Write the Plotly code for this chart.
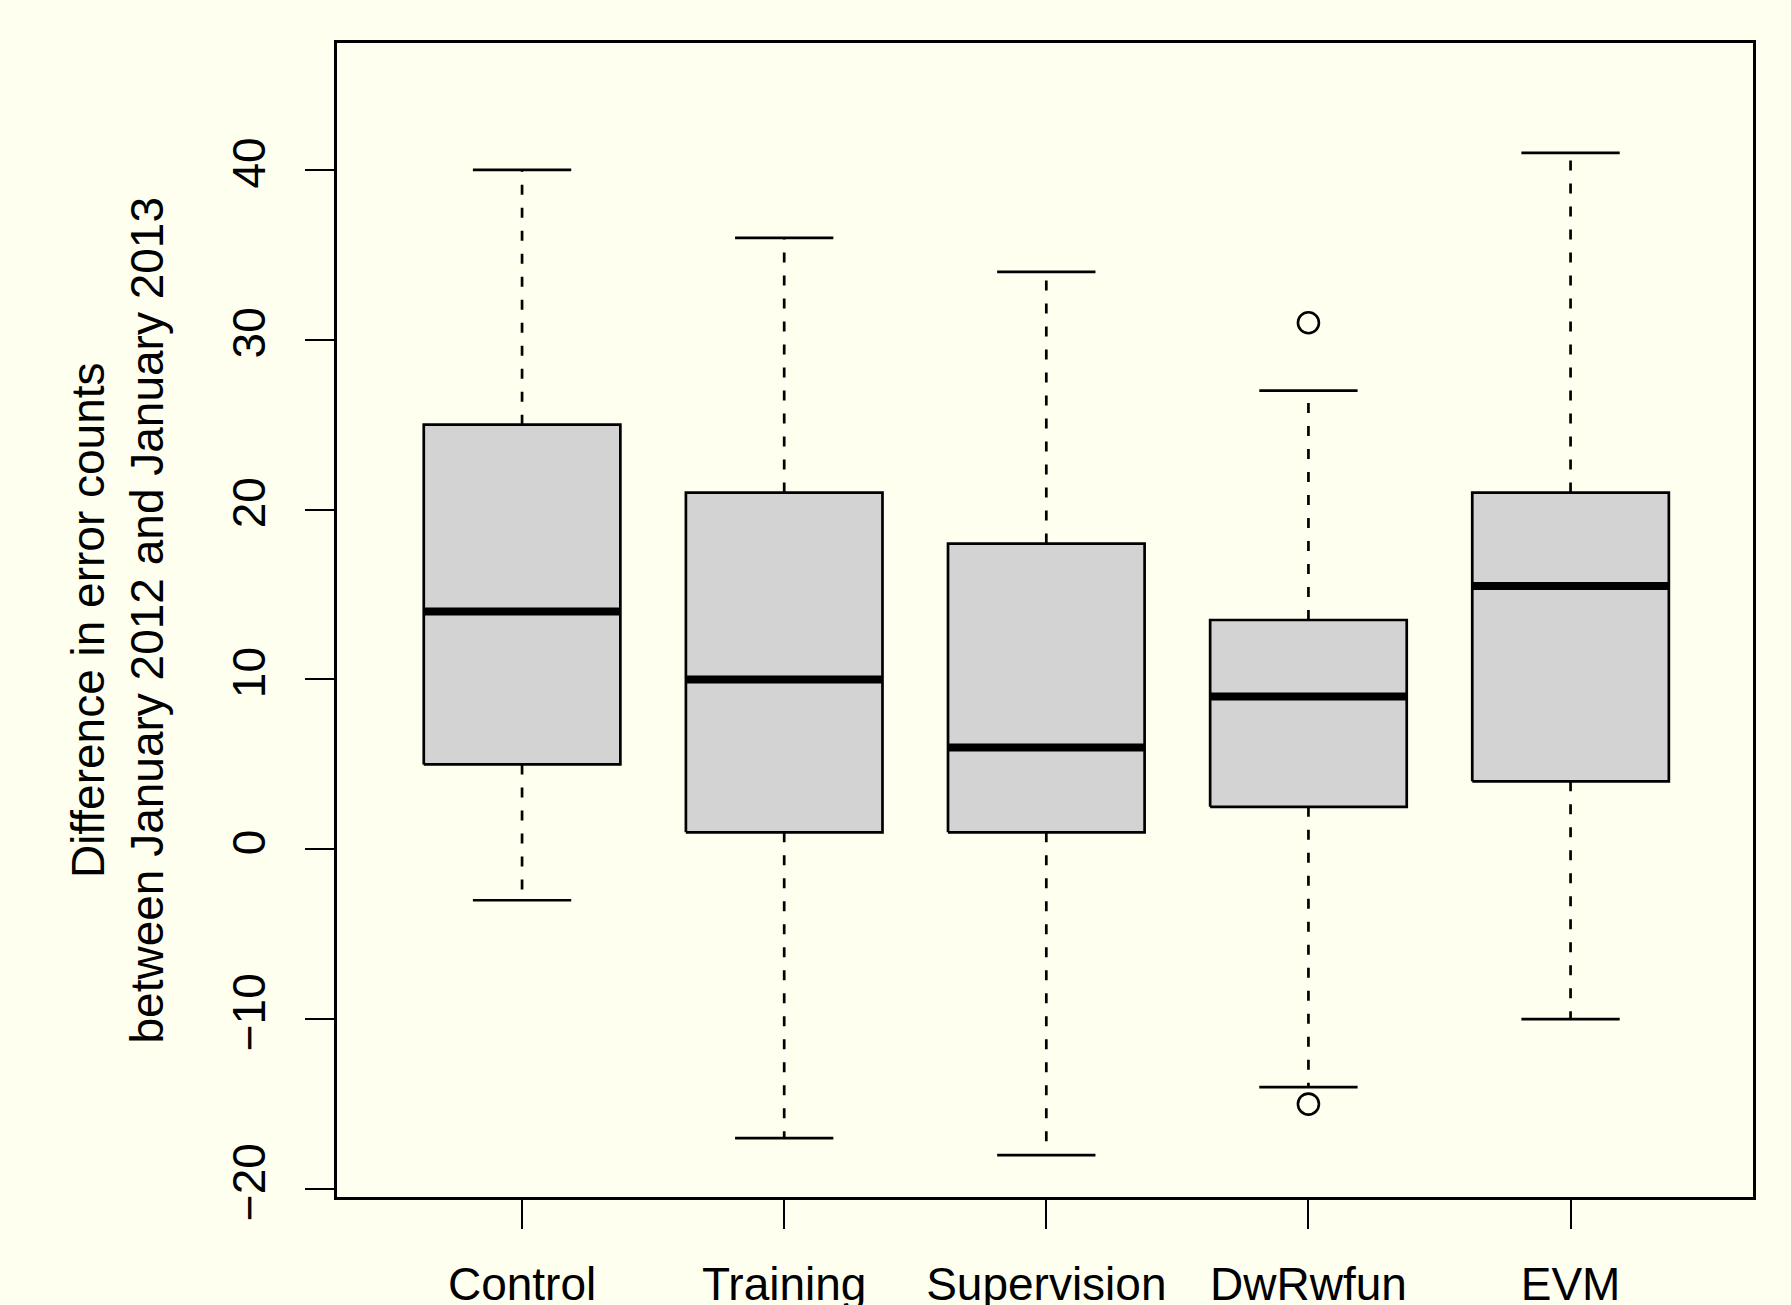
import plotly.graph_objects as go

categories = ["Control", "Training", "Supervision", "DwRwfun", "EVM"]
lower_whisker = [-3, -17, -18, -14, -10]
q1 = [5, 1, 1, 2.5, 4]
median = [14, 10, 6, 9, 15.5]
q3 = [25, 21, 18, 13.5, 21]
upper_whisker = [40, 36, 34, 27, 41]
outlier_group = ["DwRwfun", "DwRwfun"]
outlier_values = [31, -15]
y_ticks = [-20, -10, 0, 10, 20, 30, 40]
y_title = "Difference in error counts<br>between January 2012 and January 2013"

BG = "#FFFFF0"
FONT = "Liberation Sans, Arial, Helvetica, sans-serif"
half_box = 0.375
half_cap = 0.1875
LW = 2.7

fig = go.Figure()
positions = list(range(1, len(categories) + 1))

# whiskers (dashed)
wx, wy = [], []
for p, lo, a, b, hi in zip(positions, lower_whisker, q1, q3, upper_whisker):
    wx += [p, p, None, p, p, None]
    wy += [b, hi, None, a, lo, None]
fig.add_trace(go.Scatter(x=wx, y=wy, mode="lines",
                         line=dict(color="black", width=LW, dash="10px,13px"),
                         hoverinfo="skip", showlegend=False))
# caps
cx, cy = [], []
for p, lo, hi in zip(positions, lower_whisker, upper_whisker):
    cx += [p - half_cap, p + half_cap, None, p - half_cap, p + half_cap, None]
    cy += [hi, hi, None, lo, lo, None]
fig.add_trace(go.Scatter(x=cx, y=cy, mode="lines",
                         line=dict(color="black", width=LW),
                         hoverinfo="skip", showlegend=False))
# boxes
for p, a, b in zip(positions, q1, q3):
    fig.add_trace(go.Scatter(
        x=[p - half_box, p + half_box, p + half_box, p - half_box, p - half_box],
        y=[a, a, b, b, a], mode="lines", fill="toself",
        fillcolor="#D3D3D3", line=dict(color="black", width=LW),
        hoverinfo="skip", showlegend=False))
# medians
mx, my = [], []
for p, m in zip(positions, median):
    mx += [p - half_box, p + half_box, None]
    my += [m, m, None]
fig.add_trace(go.Scatter(x=mx, y=my, mode="lines",
                         line=dict(color="black", width=8),
                         hoverinfo="skip", showlegend=False))
# outliers
ox = [categories.index(g) + 1 for g in outlier_group]
fig.add_trace(go.Scatter(x=ox, y=outlier_values, mode="markers",
                         marker=dict(symbol="circle-open", size=21,
                                     color="black", line=dict(width=2.6)),
                         hoverinfo="skip", showlegend=False))

fig.add_annotation(text=y_title, xref="paper", yref="paper",
                   x=-0.155, y=0.5, xanchor="center", yanchor="middle",
                   textangle=-90, showarrow=False,
                   font=dict(family=FONT, size=46, color="black"))

fig.update_layout(
    width=1791, height=1305,
    margin=dict(l=337, r=38, t=43, b=108, autoexpand=False),
    paper_bgcolor=BG, plot_bgcolor=BG,
    font=dict(family=FONT, size=46, color="black"),
    showlegend=False,
)
fig.update_xaxes(range=[0.294, 5.696], tickvals=positions, ticktext=categories,
                 showgrid=False, zeroline=False, showline=True, mirror=True,
                 linecolor="black", linewidth=LW, ticks="outside", ticklen=29,
                 tickwidth=2.4, tickcolor="black", ticklabelstandoff=16,
                 automargin=False, tickfont=dict(size=46))
fig.update_yaxes(range=[-20.47, 47.47], tickvals=y_ticks,
                 showgrid=False, zeroline=False, showline=True, mirror=True,
                 linecolor="black", linewidth=LW, ticks="outside", ticklen=29,
                 tickwidth=2.4, tickcolor="black", tickangle=-90,
                 ticklabelstandoff=22, automargin=False, tickfont=dict(size=46))

fig.write_html(
    "out.html",
    config={"displayModeBar": False},
    post_script="document.body.style.margin='0';document.body.style.padding='0';"
                "document.body.style.background='#FFFFF0';"
                "document.documentElement.style.overflow='hidden';",
)
